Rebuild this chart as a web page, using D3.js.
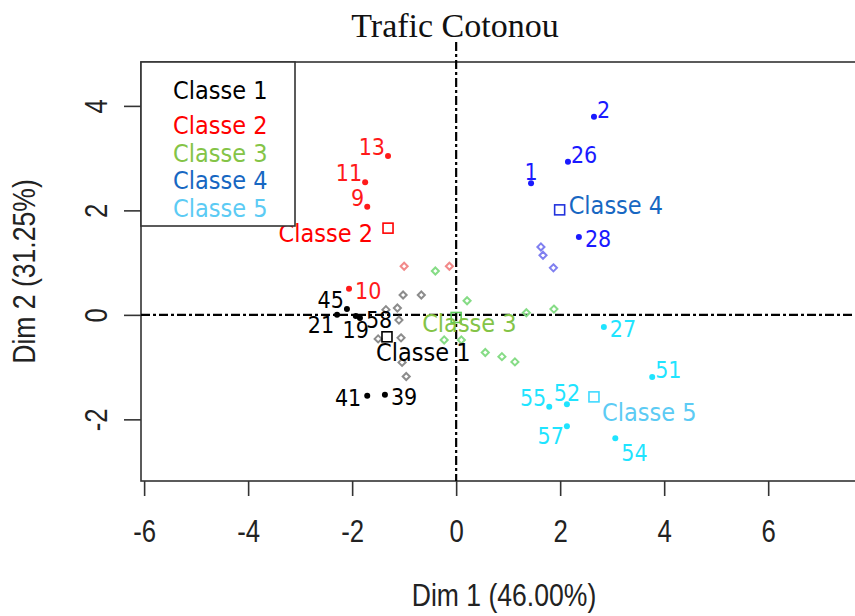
<!DOCTYPE html>
<html>
<head>
<meta charset="utf-8">
<script src="https://cdn.jsdelivr.net/npm/d3@7"></script>
<style>
  html, body { margin: 0; padding: 0; background: #fff; }
  svg { display: block; }
  .lab { font-family: "DejaVu Sans Condensed", "DejaVu Sans", sans-serif; font-stretch: condensed; font-size: 25px; }
  .ind { font-size: 23px; }
  .ax { font-family: "Liberation Sans Narrow", "Liberation Sans", Arial, sans-serif; }
</style>
</head>
<body>
<svg id="chart" width="855" height="616"></svg>
<script>
// ---------------- data ----------------
const title = "Trafic Cotonou";
const xTitle = "Dim 1 (46.00%)";
const yTitle = "Dim 2 (31.25%)";
const xTicks = [-6, -4, -2, 0, 2, 4, 6];
const yTicks = [-2, 0, 2, 4];

const classNames = ["Classe 1", "Classe 2", "Classe 3", "Classe 4", "Classe 5"];
const centerDim1 = [-1.33, -1.31, 0.00, 1.99, 2.65];
const centerDim2 = [-0.42, 1.66, -0.05, 2.01, -1.57];
const centerLabelPos = ["s", "w", "c", "e", "se"];

// labelled individuals
const indIds   = ["13", "11", "9", "10", "2", "26", "1", "28", "27", "51", "52", "55", "57", "54", "45", "21", "19", "58", "41", "39"];
const indClass = [2, 2, 2, 2, 4, 4, 4, 4, 5, 5, 5, 5, 5, 5, 1, 1, 1, 1, 1, 1];
const indDim1  = [-1.31, -1.75, -1.71, -2.06, 2.65, 2.15, 1.44, 2.36, 2.84, 3.77, 2.13, 1.79, 2.13, 3.06, -2.10, -2.29, -1.93, -1.85, -1.71, -1.37];
const indDim2  = [3.04, 2.54, 2.07, 0.50, 3.79, 2.93, 2.52, 1.49, -0.23, -1.19, -1.71, -1.76, -2.13, -2.36, 0.11, 0.00, -0.02, -0.06, -1.55, -1.53];
const indLabelPos = ["nw", "nw", "nw", "e", "ne", "ne", "n", "e", "e", "ne", "n", "nw", "sw", "se", "nw", "sw", "s", "e", "w", "e"];

// other (unlabelled) individuals
const othClass = [1, 1, 1, 1, 1, 1, 1, 1, 1, 2, 2, 3, 3, 3, 3, 3, 3, 3, 3, 3, 4, 4, 4];
const othDim1  = [-1.02, -0.67, -1.35, -1.13, -1.10, -1.50, -1.06, -1.04, -0.96, -1.00, -0.13, -0.40, 0.21, -0.23, 0.10, 0.56, 0.88, 1.13, 1.35, 1.88, 1.63, 1.67, 1.87];
const othDim2  = [0.38, 0.38, 0.10, 0.13, -0.10, -0.46, -0.44, -0.91, -1.18, 0.93, 0.93, 0.84, 0.27, -0.48, -0.48, -0.72, -0.80, -0.90, 0.04, 0.11, 1.30, 1.14, 0.90];

// ---------------- styles ----------------
const dotColor    = {1: "#000000", 2: "#ff1a1a", 3: "#33cc33", 4: "#1a1aff", 5: "#1fe4ff"};
const fadedColor  = {1: "#8c8c8c", 2: "#f28a8a", 3: "#86dc86", 4: "#8080f0"};
const legendColor = ["#000000", "#ff0000", "#84c447", "#1767c2", "#5ccbf4"];
const squareColor = ["#000000", "#ff0000", "#5ccc5c", "#2233dd", "#3fd9ff"];
const narrow = 0.83;

function squeeze(sel) {
  sel.each(function () {
    const w = this.getComputedTextLength();
    d3.select(this).attr("textLength", w * narrow).attr("lengthAdjust", "spacingAndGlyphs");
  });
}

const svg = d3.select("#chart");
const x = d3.scaleLinear().domain([-6.06, 7.9]).range([141, 867]);
const y = d3.scaleLinear().domain([-3.18, 4.84]).range([481, 62]);

// box
svg.append("rect")
  .attr("x", x(-6.06)).attr("y", y(4.84))
  .attr("width", x(7.9) - x(-6.06)).attr("height", y(-3.18) - y(4.84))
  .attr("fill", "none").attr("stroke", "#333").attr("stroke-width", 1.6);

// reference lines
const dash = "9,3,3,3";
svg.append("line")
  .attr("x1", x(-6.06)).attr("x2", x(7.9)).attr("y1", y(0)).attr("y2", y(0))
  .attr("stroke", "#000").attr("stroke-width", 2.2).attr("stroke-dasharray", dash);
svg.append("line")
  .attr("x1", x(0)).attr("x2", x(0)).attr("y1", 42).attr("y2", y(-3.18))
  .attr("stroke", "#000").attr("stroke-width", 2.2).attr("stroke-dasharray", dash);

// axes
const fmt = d => String(d);
const gx = svg.append("g").attr("transform", `translate(0,${y(-3.18)})`)
  .call(d3.axisBottom(x).tickValues(xTicks).tickSize(15).tickSizeOuter(0).tickPadding(24).tickFormat(fmt));
gx.select(".domain").remove();
gx.selectAll(".tick line").attr("stroke", "#333").attr("stroke-width", 1.6);
gx.selectAll(".tick text").attr("class", "ax").attr("font-size", 31).attr("fill", "#222")
  .attr("font-family", null).call(squeeze);

const gy = svg.append("g").attr("transform", `translate(${x(-6.06)},0)`)
  .call(d3.axisLeft(y).tickValues(yTicks).tickSize(17).tickSizeOuter(0).tickFormat(fmt));
gy.select(".domain").remove();
gy.selectAll(".tick line").attr("stroke", "#333").attr("stroke-width", 1.6);
gy.selectAll(".tick text").attr("class", "ax").attr("font-size", 31).attr("fill", "#222")
  .attr("font-family", null)
  .attr("x", 0).attr("y", 0).attr("dy", "0.35em")
  .attr("text-anchor", "middle")
  .attr("transform", "translate(-45,0) rotate(-90)")
  .call(squeeze);

// axis titles
svg.append("text").attr("class", "ax").attr("font-size", 32).attr("fill", "#222")
  .attr("x", (x(-6.06) + x(7.9)) / 2).attr("y", 606).attr("text-anchor", "middle").text(xTitle)
  .call(squeeze);
svg.append("text").attr("class", "ax").attr("font-size", 32).attr("fill", "#222")
  .attr("text-anchor", "middle")
  .attr("transform", `translate(35,${(y(-3.18) + y(4.84)) / 2}) rotate(-90)`).text(yTitle)
  .call(squeeze);

// title
svg.append("text").attr("x", 455).attr("y", 37).attr("text-anchor", "middle")
  .attr("font-family", "'Liberation Serif', 'Times New Roman', serif").attr("font-size", 34)
  .attr("fill", "#111").text(title);

// faded individuals (diamonds)
const diamond = d3.symbol().type(d3.symbolDiamond2).size(32);
svg.append("g").selectAll("path").data(othClass.map((c, i) => ({c, a: othDim1[i], b: othDim2[i]})))
  .join("path")
  .attr("d", diamond)
  .attr("transform", d => `translate(${x(d.a)},${y(d.b)})`)
  .attr("fill", "none").attr("stroke", d => fadedColor[d.c]).attr("stroke-width", 2);

// labelled individuals
const labOff = {
  nw: {a: "end", dx: -3, dy: -1},
  ne: {a: "start", dx: 3, dy: 1},
  n:  {a: "middle", dx: 0, dy: -3},
  e:  {a: "start", dx: 6, dy: 10},
  w:  {a: "end", dx: -6, dy: 10},
  s:  {a: "middle", dx: 0, dy: 22},
  sw: {a: "end", dx: -3, dy: 18},
  se: {a: "start", dx: 6, dy: 23}
};
const inds = indIds.map((id, i) => ({id, c: indClass[i], a: indDim1[i], b: indDim2[i], p: indLabelPos[i]}));
const gi = svg.append("g");
gi.selectAll("circle").data(inds).join("circle")
  .attr("cx", d => x(d.a)).attr("cy", d => y(d.b)).attr("r", 3)
  .attr("fill", d => dotColor[d.c]);
gi.selectAll("text").data(inds).join("text")
  .attr("class", "lab ind")
  .attr("x", d => x(d.a) + labOff[d.p].dx)
  .attr("y", d => y(d.b) + labOff[d.p].dy)
  .attr("text-anchor", d => labOff[d.p].a)
  .attr("fill", d => dotColor[d.c])
  .text(d => d.id);

// class centres
const cenOff = {
  s:  {a: "start", dx: -11, dy: 24},
  w:  {a: "end", dx: -15, dy: 14},
  c:  {a: "start", dx: -34, dy: 15},
  e:  {a: "start", dx: 9, dy: 4},
  se: {a: "start", dx: 8, dy: 24}
};
const cens = classNames.map((n, i) => ({n, i, a: centerDim1[i], b: centerDim2[i], p: centerLabelPos[i]}));
const gc = svg.append("g");
gc.selectAll("rect").data(cens).join("rect")
  .attr("x", d => x(d.a) - 5).attr("y", d => y(d.b) - 5).attr("width", 10).attr("height", 10)
  .attr("fill", "none").attr("stroke", d => squareColor[d.i]).attr("stroke-width", 1.6);
gc.selectAll("text").data(cens).join("text")
  .attr("class", "lab")
  .attr("x", d => x(d.a) + cenOff[d.p].dx)
  .attr("y", d => y(d.b) + cenOff[d.p].dy)
  .attr("text-anchor", d => cenOff[d.p].a)
  .attr("fill", d => legendColor[d.i])
  .text(d => d.n);

// legend
const lg = svg.append("g");
lg.append("rect").attr("x", 141).attr("y", 62).attr("width", 154).attr("height", 164)
  .attr("fill", "#fff").attr("stroke", "#333").attr("stroke-width", 1.6);
lg.selectAll("text").data(classNames).join("text")
  .attr("class", "lab")
  .attr("x", 173)
  .attr("y", (d, i) => i === 0 ? 99 : 134 + (i - 1) * 27.5)
  .attr("fill", (d, i) => legendColor[i])
  .text(d => d);
</script>
</body>
</html>
